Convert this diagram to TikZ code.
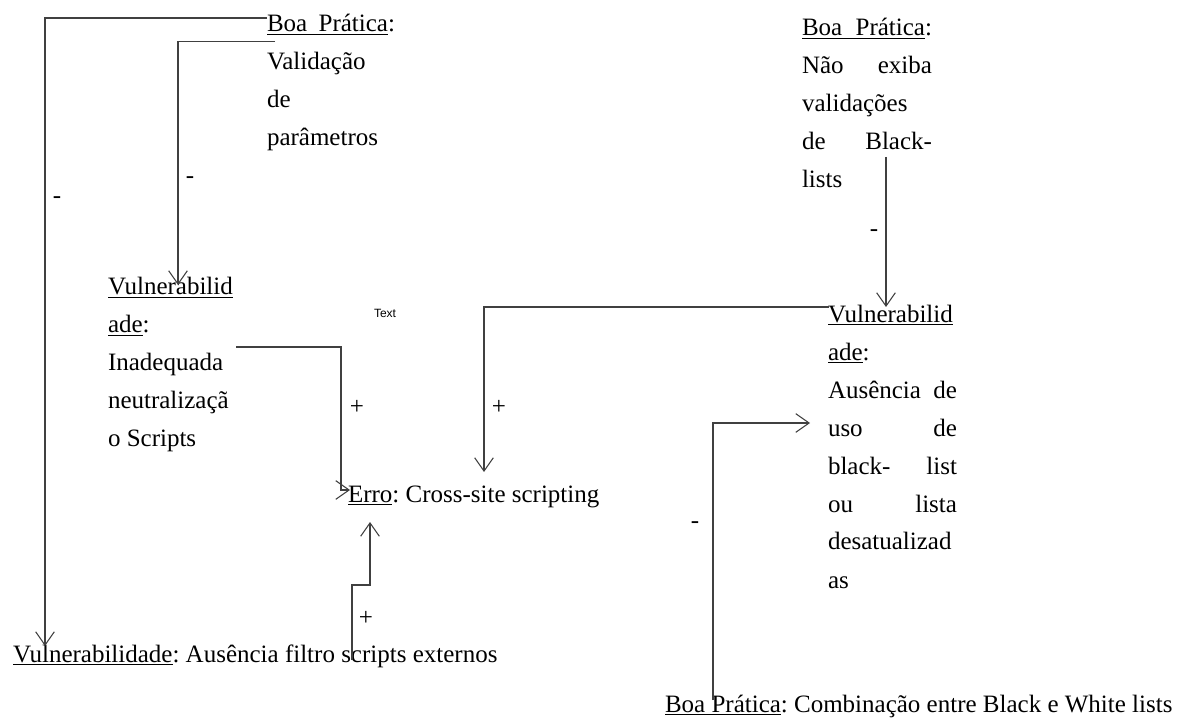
\documentclass[tikz,border=0pt]{standalone}
\usepackage{fontspec}
\setmainfont{Liberation Serif}
\newfontfamily\sansf{Liberation Sans}
\usetikzlibrary{arrows.meta,calc}
\frenchspacing
\newcommand\bpline{\setbox0\hbox{:}\underline{\makebox[\dimexpr\linewidth-\wd0\relax][s]{Boa Prática}}:}
\newcommand\jline[1]{\makebox[\linewidth][s]{#1}}
\tikzset{
  txt/.style={inner sep=0pt, outer sep=0pt, anchor=base west, font=\fontsize{18.75pt}{28.5pt}\selectfont},
  lbl/.style={inner sep=0pt, outer sep=0pt, font=\fontsize{18.75pt}{28.5pt}\selectfont},
  conn/.style={draw=black!75, line width=0.8pt, -{Straight Barb[length=10pt,width=14pt]}},
}
\begin{document}
\begin{tikzpicture}[x=0.75pt,y=-0.75pt]
\useasboundingbox (0,0) rectangle (1185,720);
% text boxes
\node[txt] (bp1) at (267,32) {\parbox[t]{96pt}{\bpline\\Validação\\de\\parâmetros}};
\node[txt] (bp2) at (802,36) {\parbox[t]{97.5pt}{\bpline\\\jline{Não exiba}\\validações\\\jline{de Black-}\\lists}};
\node[txt] (v1) at (108,295) {\parbox[t]{95.25pt}{\underline{Vulnerabilid}\\\underline{ade}:\\Inadequada\\neutralizaçã\\o Scripts}};
\node[txt] (v2) at (828,322) {\parbox[t]{96.75pt}{\underline{Vulnerabilid}\\\underline{ade}:\\\jline{Ausência de}\\\jline{uso de}\\\jline{black- list}\\\jline{ou lista}\\desatualizad\\as}};
\node[txt] (erro) at (348,502) {\underline{Erro}: Cross-site scripting};
\node[txt] (v3) at (13,662) {\underline{Vulnerabilidade}: Ausência filtro scripts externos};
\node[txt] (bp3) at (665,712) {\underline{Boa Prática}: Combinação entre Black e White lists};
\node[inner sep=0pt, font=\sansf\fontsize{9pt}{10pt}\selectfont] (tx) at (385,313) {Text};
% sign labels
\node[lbl] (m1) at (57,200) {-};
\node[lbl] (m2) at (190,180) {-};
\node[lbl] (m3) at (874,233) {-};
\node[lbl] (m4) at (695,525) {-};
\node[lbl] (p1) at (357,407) {+};
\node[lbl] (p2) at (499,407) {+};
\node[lbl] (p3) at (366,618) {+};
% connectors
\draw[conn] ($(bp1.base west)+(0,-14)$) -| ($(v3.base west)+(32,-16)$);
\draw[conn] ($(bp1.base west)+(8,9.7)$) -| ($(v1.base west)+(70,-10)$);
\draw[conn] ($(bp2.base west)+(84,121)$) -- ($(v2.base west)+(58,-15)$);
\draw[conn] ($(v2.base west)+(1,-15)$) -| ($(erro.base west)+(136,-30)$);
\draw[conn] ($(v1.base west)+(128,52)$) -| ($(erro.base west)+(-7,-12)$) -- ($(erro.base west)+(2,-12)$);
\draw[conn] ($(v3.base west)+(339,-2)$) |- ($(erro.base west)+(22,83)$) -- ($(erro.base west)+(22,20)$);
\draw[conn] ($(bp3.base west)+(48,-12)$) |- ($(v2.base west)+(-18,101)$);
\end{tikzpicture}
\end{document}
